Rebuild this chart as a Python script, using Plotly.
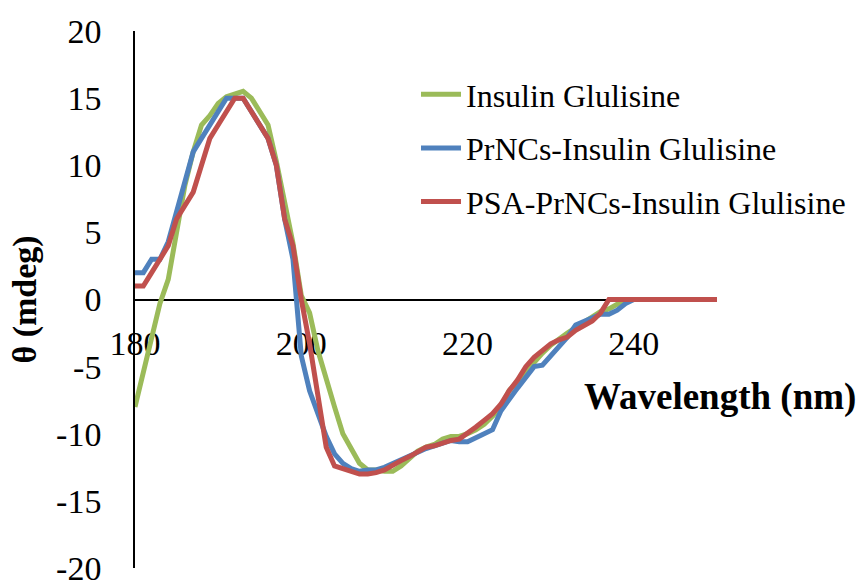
import plotly.graph_objects as go

wavelength = list(range(180, 251))

insulin_glulisine = [
    -8, -5.5, -3, -0.3, 1.5, 5, 8.5, 11, 13, 13.7,
    14.6, 15.1, 15.3, 15.5, 15, 14, 13, 10.3, 7, 4.2,
    0.3, -1, -3.8, -6, -8, -10, -11.1, -12.2, -12.7, -12.7,
    -12.8, -12.8, -12.4, -11.9, -11.3, -11, -10.8, -10.4, -10.2, -10.2,
    -10, -9.7, -9.3, -8.7, -8, -6.8, -6.1, -5.4, -4.6, -4,
    -3.4, -2.9, -2.5, -2.1, -1.7, -1.3, -0.9, -0.7, -0.3, 0,
    0, 0, 0, 0, 0, 0, 0, 0, 0, 0, 0,
]

prncs_insulin = [
    2, 2, 3, 3, 4.3, 6.5, 8.8, 11, 12, 13,
    14, 15, 15, 15, 14, 13, 12, 10, 6, 3,
    -4.2, -6.8, -8.5, -10.2, -11.5, -12.2, -12.6, -12.8, -12.7, -12.7,
    -12.5, -12.2, -11.9, -11.6, -11.3, -11.1, -10.9, -10.7, -10.5, -10.6,
    -10.6, -10.3, -10, -9.7, -8.3, -7.4, -6.6, -5.8, -5, -4.9,
    -4.2, -3.5, -2.8, -1.9, -1.6, -1.3, -1.1, -1.1, -0.8, -0.3,
    0, 0, 0, 0, 0, 0, 0, 0, 0, 0, 0,
]

psa_prncs_insulin = [
    1, 1, 2, 3, 4, 6, 7, 8, 10, 12,
    13, 14, 15, 15, 14, 13, 12, 10, 6, 4,
    0, -3.3, -7, -11, -12.4, -12.6, -12.8, -13, -13, -12.9,
    -12.7, -12.3, -12, -11.7, -11.3, -11, -10.9, -10.7, -10.5, -10.4,
    -10, -9.5, -9, -8.5, -7.8, -6.8, -6, -5, -4.3, -3.8,
    -3.3, -3, -2.8, -2.3, -2, -1.6, -1, 0, 0, 0,
    0, 0, 0, 0, 0, 0, 0, 0, 0, 0, 0,
]

series_names = ["Insulin Glulisine", "PrNCs-Insulin Glulisine", "PSA-PrNCs-Insulin Glulisine"]
series_values = [insulin_glulisine, prncs_insulin, psa_prncs_insulin]
series_colors = ["#9BBB59", "#4F81BD", "#C0504D"]

x_ticks = [180, 200, 220, 240]
y_ticks = [-20, -15, -10, -5, 0, 5, 10, 15, 20]

FONT = "Times New Roman, Liberation Serif, serif"

L, R, T, B = 135, 144, 31, 13
PW = 861 - L - R
PH = 581 - T - B

fig = go.Figure()
for i, (name, vals, col) in enumerate(zip(series_names, series_values, series_colors)):
    fig.add_trace(go.Scatter(
        x=wavelength, y=vals, mode="lines", name=name,
        legendgroup=f"g{i}",
        line=dict(color=col, width=5),
    ))

fig.update_layout(
    width=861, height=581,
    margin=dict(l=L, r=R, t=T, b=B, autoexpand=False),
    paper_bgcolor="white", plot_bgcolor="white",
    font=dict(family=FONT, color="black", size=34),
    showlegend=True,
    legend=dict(
        x=(466 - 50 - L) / PW, y=(581 - B - 67) / PH, xanchor="left", yanchor="top",
        font=dict(family=FONT, size=32, color="black"),
        bgcolor="rgba(0,0,0,0)", tracegroupgap=9,
        itemwidth=40,
    ),
    xaxis=dict(
        range=[180, 250], tickvals=x_ticks, ticktext=[str(v) for v in x_ticks],
        showline=True, linecolor="black", linewidth=1.5,
        showgrid=False, zeroline=False, ticks="",
        anchor="free", position=0.5, side="bottom",
        ticklabelstandoff=14, automargin=False,
        tickfont=dict(family=FONT, size=34, color="black"),
        layer="below traces",
    ),
    yaxis=dict(
        range=[-20, 20], tickvals=y_ticks, ticktext=[str(v) for v in y_ticks],
        showline=True, linecolor="black", linewidth=1.5,
        showgrid=False, zeroline=False, ticks="",
        ticklabelstandoff=25, automargin=False,
        ticklabeloverflow="allow",
        tickfont=dict(family=FONT, size=34, color="black"),
        title=dict(text="<b>θ (mdeg)</b>", standoff=9,
                   font=dict(family=FONT, size=34, color="black")),
    ),
    annotations=[dict(
        text="<b>Wavelength (nm)</b>", xref="paper", yref="paper",
        x=(858 - L) / PW, y=(581 - B - 397) / PH, xanchor="right", yanchor="middle",
        showarrow=False, font=dict(family=FONT, size=37, color="black"),
    )],
)

fig.write_html(
    "out.html",
    config={"displayModeBar": False},
    post_script="document.body.style.margin='0';document.body.style.overflow='hidden';",
)
